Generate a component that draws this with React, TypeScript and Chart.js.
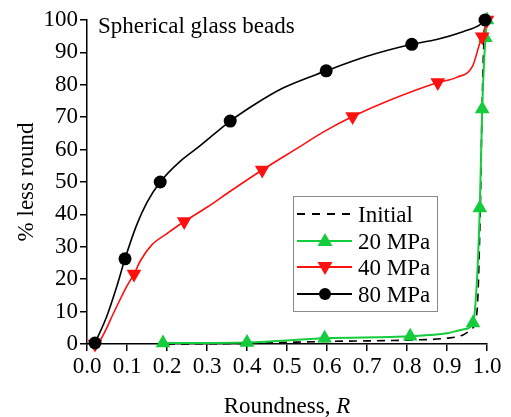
import React, { useEffect, useRef } from "react";
import { Chart, registerables } from "chart.js";

Chart.register(...registerables);

// Roundness R values (x) and % less round values (y)
const initialR = [0.2, 0.4, 0.6, 0.8, 0.9, 0.94, 0.96, 0.975, 0.983, 0.988, 0.993, 1.0];
const initialV = [0, 0.2, 0.8, 1.2, 1.8, 2.8, 4.5, 10, 40, 75, 95, 100];

const mpa20R = [0.19, 0.4, 0.594, 0.808, 0.9, 0.94, 0.965, 0.975, 0.982, 0.988, 0.996, 1.0];
const mpa20V = [0.3, 0.5, 1.8, 2.4, 3.3, 4.5, 6.5, 20, 42, 72.5, 94.5, 100];
const mpa20Markers = [1, 1, 1, 1, 0, 0, 1, 0, 1, 1, 1, 1];

const mpa40R = [0.02, 0.033, 0.07, 0.099, 0.1175, 0.135, 0.162, 0.199, 0.243, 0.3, 0.36, 0.438, 0.52, 0.599, 0.664, 0.758, 0.877, 0.924, 0.964, 0.982, 0.988, 1.0];
const mpa40V = [0, 1.2, 10.5, 17.7, 21.6, 26, 30.6, 34, 37.8, 42.2, 47.3, 53.7, 60, 66, 70.2, 75.3, 80.7, 82.3, 85.8, 92.8, 94.8, 100];
const mpa40Markers = [1, 0, 0, 0, 1, 0, 0, 0, 1, 0, 0, 1, 0, 0, 1, 0, 1, 0, 0, 0, 1, 1];

const mpa80R = [0.02, 0.049, 0.075, 0.095, 0.124, 0.149, 0.183, 0.232, 0.283, 0.358, 0.42, 0.49, 0.598, 0.7, 0.812, 0.874, 0.94, 0.982, 0.995];
const mpa80V = [0.3, 8.4, 18, 26.3, 36.7, 43.5, 50, 56.3, 61.2, 68.8, 74, 79, 84.3, 88.8, 92.5, 94, 96.4, 98.5, 100];
const mpa80Markers = [1, 0, 0, 1, 0, 0, 1, 0, 0, 1, 0, 0, 1, 0, 1, 0, 0, 0, 1];

const xTicks = [0, 0.1, 0.2, 0.3, 0.4, 0.5, 0.6, 0.7, 0.8, 0.9, 1.0];
const yTicks = [0, 10, 20, 30, 40, 50, 60, 70, 80, 90, 100];

const legendLabels = ["Initial", "20 MPa", "40 MPa", "80 MPa"];
const chartTitle = "Spherical glass beads";
const xTitleMain = "Roundness, ";
const xTitleVar = "R";
const yTitle = "% less round";

const GREEN = "#14cc3c";
const RED = "#ff1010";
const BLACK = "#000000";
const FAMILY = "Liberation Serif";
const FONT = "'Liberation Serif', serif";

Chart.defaults.font.family = FAMILY;
Chart.defaults.color = "#000";

function pts(xs: number[], ys: number[]) {
  return xs.map((x, i) => ({ x, y: ys[i] }));
}

const overlayPlugin = {
  id: "overlay",
  afterDraw(chart: any) {
    const ctx: CanvasRenderingContext2D = chart.ctx;
    const area = chart.chartArea;
    ctx.save();
    ctx.fillStyle = "#000";
    ctx.font = `23px ${FONT}`;
    ctx.textBaseline = "alphabetic";
    ctx.textAlign = "left";
    ctx.fillText(chartTitle, 98, 33);

    // x axis title with italic variable
    ctx.font = `23px ${FONT}`;
    const w1 = ctx.measureText(xTitleMain).width;
    ctx.font = `italic 23px ${FONT}`;
    const w2 = ctx.measureText(xTitleVar).width;
    const cx = (area.left + area.right) / 2;
    const sx = cx - (w1 + w2) / 2;
    ctx.font = `23px ${FONT}`;
    ctx.fillText(xTitleMain, sx, 413);
    ctx.font = `italic 23px ${FONT}`;
    ctx.fillText(xTitleVar, sx + w1, 413);

    // y axis title
    ctx.save();
    ctx.translate(33, (area.top + area.bottom) / 2);
    ctx.rotate(-Math.PI / 2);
    ctx.font = `23px ${FONT}`;
    ctx.textAlign = "center";
    ctx.textBaseline = "alphabetic";
    ctx.fillText(yTitle, 0, 0);
    ctx.restore();

    // legend box
    const bx = 293, by = 196, bw = 144, bh = 115;
    ctx.fillStyle = "#fff";
    ctx.fillRect(bx, by, bw, bh);
    ctx.strokeStyle = "#8a8a8a";
    ctx.lineWidth = 1;
    ctx.strokeRect(bx + 0.5, by + 0.5, bw, bh);

    const rowsY = [214, 241, 267, 294];
    const styles = [
      { color: BLACK, dash: [8, 7], marker: "none" },
      { color: GREEN, dash: [], marker: "up" },
      { color: RED, dash: [], marker: "down" },
      { color: BLACK, dash: [], marker: "circle" },
    ];
    styles.forEach((s, i) => {
      const y = rowsY[i];
      ctx.strokeStyle = s.color;
      ctx.lineWidth = 2;
      ctx.setLineDash(s.dash);
      ctx.beginPath();
      ctx.moveTo(297, y);
      ctx.lineTo(352, y);
      ctx.stroke();
      ctx.setLineDash([]);
      ctx.fillStyle = s.color;
      const mx = 325;
      if (s.marker === "circle") {
        ctx.beginPath();
        ctx.arc(mx, y, 6, 0, Math.PI * 2);
        ctx.fill();
      } else if (s.marker === "up") {
        ctx.beginPath();
        ctx.moveTo(mx, y - 8);
        ctx.lineTo(mx + 7.5, y + 5);
        ctx.lineTo(mx - 7.5, y + 5);
        ctx.closePath();
        ctx.fill();
      } else if (s.marker === "down") {
        ctx.beginPath();
        ctx.moveTo(mx, y + 8);
        ctx.lineTo(mx + 7.5, y - 5);
        ctx.lineTo(mx - 7.5, y - 5);
        ctx.closePath();
        ctx.fill();
      }
      ctx.fillStyle = "#000";
      ctx.font = `23px ${FONT}`;
      ctx.textBaseline = "alphabetic";
      ctx.textAlign = "left";
      ctx.fillText(legendLabels[i], 358, y + 8);
    });
    ctx.restore();
  },
};

export default function App() {
  const ref = useRef<HTMLCanvasElement | null>(null);
  useEffect(() => {
    if (!ref.current) return;
    const radii = (m: number[], r: number) => m.map((v) => (v ? r : 0));
    const chart = new Chart(ref.current, {
      type: "line",
      data: {
        datasets: [
          {
            label: legendLabels[3],
            data: pts(mpa80R, mpa80V),
            borderColor: BLACK,
            backgroundColor: BLACK,
            borderWidth: 1.6,
            pointStyle: "circle",
            pointRadius: radii(mpa80Markers, 6.5),
            pointBorderWidth: 0,
            cubicInterpolationMode: "monotone",
            clip: false,
          } as any,
          {
            label: legendLabels[2],
            data: pts(mpa40R, mpa40V),
            borderColor: RED,
            backgroundColor: RED,
            borderWidth: 1.6,
            pointStyle: "triangle",
            pointRotation: 180,
            pointRadius: radii(mpa40Markers, 8.5),
            pointBorderWidth: 0,
            cubicInterpolationMode: "monotone",
            clip: false,
          } as any,
          {
            label: legendLabels[1],
            data: pts(mpa20R, mpa20V),
            borderColor: GREEN,
            backgroundColor: GREEN,
            borderWidth: 2,
            pointStyle: "triangle",
            pointRadius: radii(mpa20Markers, 8.5),
            pointBorderWidth: 0,
            cubicInterpolationMode: "monotone",
            clip: false,
          } as any,
          {
            label: legendLabels[0],
            data: pts(initialR, initialV),
            borderColor: BLACK,
            borderWidth: 1.6,
            borderDash: [8, 6],
            pointRadius: 0,
            cubicInterpolationMode: "monotone",
            clip: false,
          } as any,
        ],
      },
      options: {
        animation: false,
        responsive: false,
        devicePixelRatio: 1,
        layout: { padding: { left: 0, right: 24, top: 20, bottom: 0 } },
        plugins: {
          legend: { display: false },
          tooltip: { enabled: false },
          title: { display: false },
        },
        scales: {
          x: {
            type: "linear",
            min: 0,
            max: 1,
            afterFit: (s: any) => {
              s.height = 73;
            },
            afterBuildTicks: (s: any) => {
              s.ticks = xTicks.map((v) => ({ value: v }));
            },
            ticks: {
              color: "#000",
              font: { family: FAMILY, size: 23 },
              padding: 2,
              maxRotation: 0,
              autoSkip: false,
              callback: (v: any) => Number(v).toFixed(1),
            },
            grid: {
              display: true,
              drawOnChartArea: false,
              drawTicks: true,
              tickLength: 7,
              tickColor: "#000",
              lineWidth: 1.5,
            },
            border: { display: true, color: "#000", width: 1.5 },
            title: { display: false },
          },
          y: {
            type: "linear",
            min: 0,
            max: 100,
            afterFit: (s: any) => {
              s.width = 87;
            },
            afterBuildTicks: (s: any) => {
              s.ticks = yTicks.map((v) => ({ value: v }));
            },
            ticks: {
              color: "#000",
              font: { family: FAMILY, size: 23 },
              padding: 2,
              autoSkip: false,
            },
            grid: {
              display: true,
              drawOnChartArea: false,
              drawTicks: true,
              tickLength: 7,
              tickColor: "#000",
              lineWidth: 1.5,
            },
            border: { display: true, color: "#000", width: 1.5 },
            title: { display: false },
          },
        },
      },
      plugins: [overlayPlugin],
    } as any);
    return () => chart.destroy();
  }, []);
  return (
    <div style={{ position: "fixed", left: 0, top: 0, width: 511, height: 417, background: "#fff" }}>
      <canvas ref={ref} width={511} height={417} style={{ width: 511, height: 417, display: "block" }} />
    </div>
  );
}
